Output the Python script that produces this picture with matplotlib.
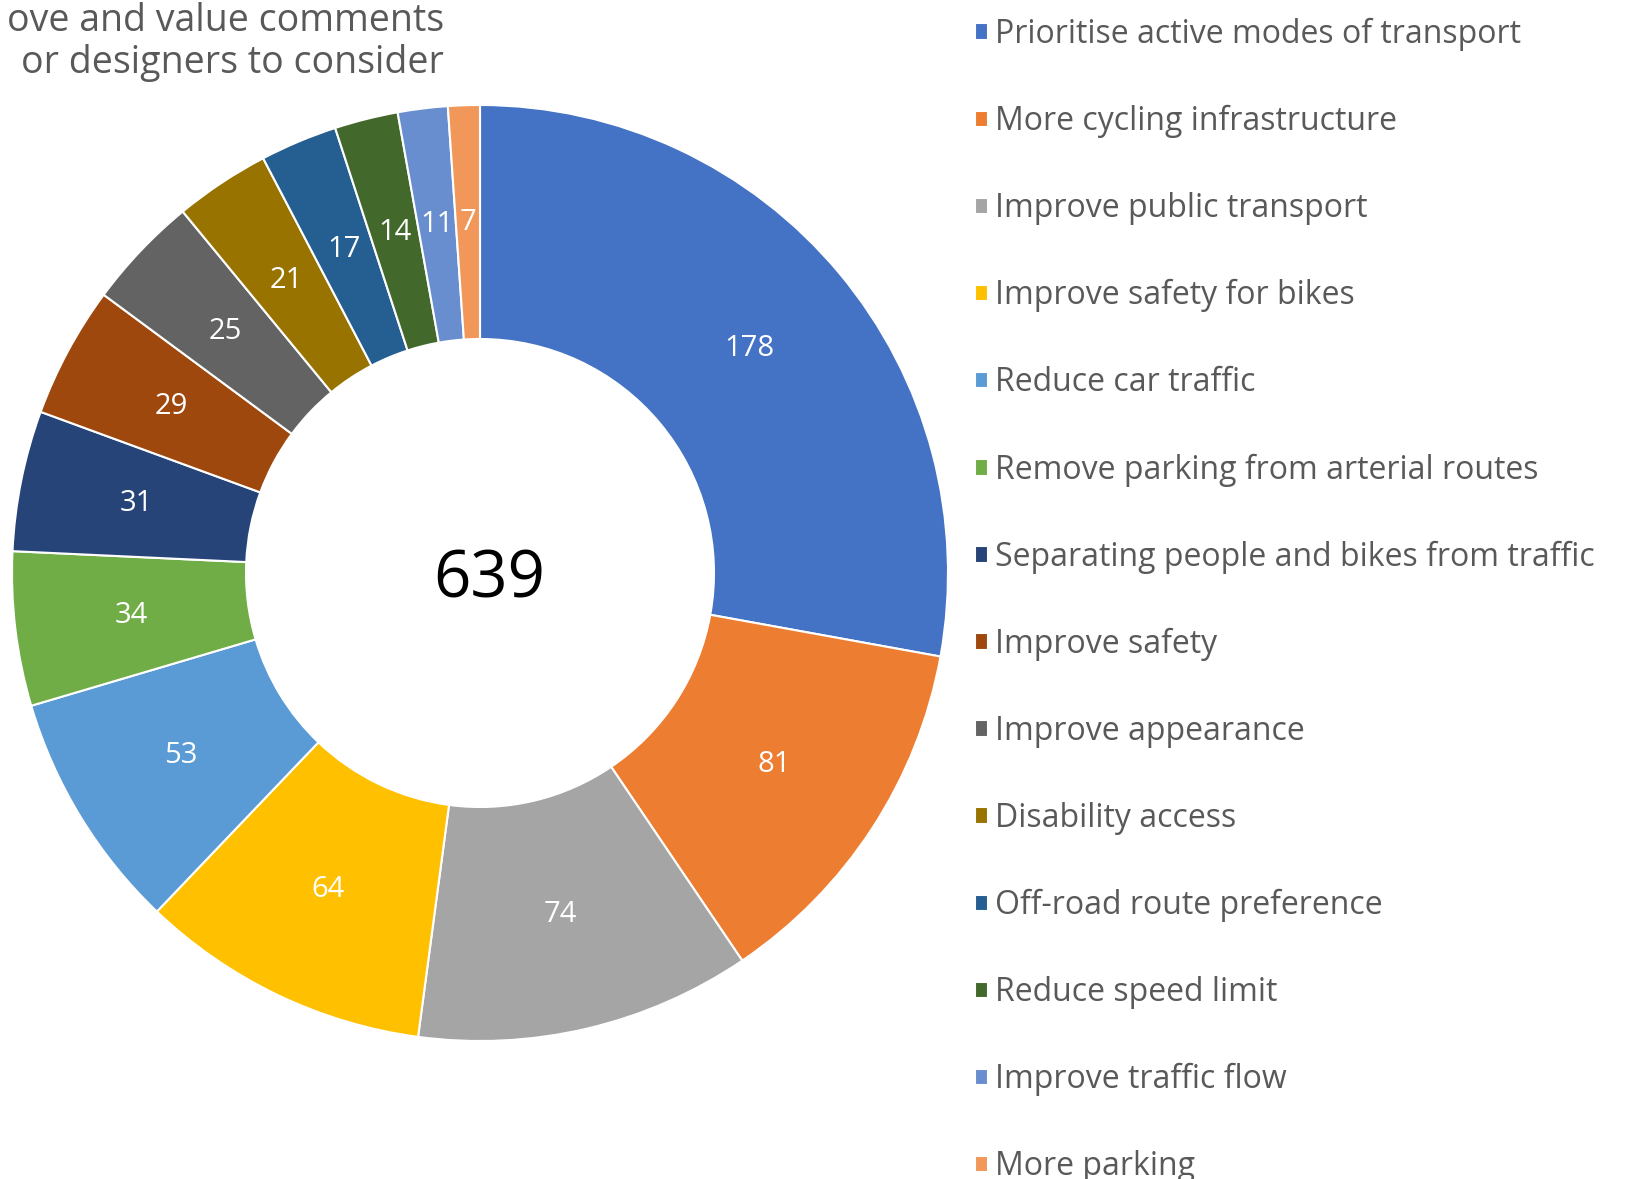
import matplotlib
matplotlib.use("Agg")
import matplotlib.pyplot as plt

plt.rcParams["font.family"] = ["Open Sans", "DejaVu Sans"]

categories = [
    "Prioritise active modes of transport",
    "More cycling infrastructure",
    "Improve public transport",
    "Improve safety for bikes",
    "Reduce car traffic",
    "Remove parking from arterial routes",
    "Separating people and bikes from traffic",
    "Improve safety",
    "Improve appearance",
    "Disability access",
    "Off-road route preference",
    "Reduce speed limit",
    "Improve traffic flow",
    "More parking",
]
counts = [178, 81, 74, 64, 53, 34, 31, 29, 25, 21, 17, 14, 11, 7]
colors = ["#4472C4", "#ED7D31", "#A5A5A5", "#FFC000", "#5B9BD5", "#70AD47",
          "#264478", "#9E480E", "#636363", "#997300", "#255E91", "#43682B",
          "#698ED0", "#F1975A"]
title_lines = "ove and value comments\nor designers to consider"

W, H = 1637, 1179
fig = plt.figure(figsize=(W / 100, H / 100), dpi=100)

cx, cy, r = 480, 573, 468
ax = fig.add_axes([(cx - r) / W, (H - cy - r) / H, 2 * r / W, 2 * r / H])
wedges, texts = ax.pie(
    counts, colors=colors, startangle=90, counterclock=False, radius=1,
    wedgeprops=dict(width=0.5, edgecolor="white", linewidth=1.5),
    labels=[str(c) for c in counts], labeldistance=0.75,
    textprops=dict(color="white", fontsize=21, ha="center", va="center"),
)
ax.set_xlim(-1, 1)
ax.set_ylim(-1, 1)
ax.set_aspect("equal")
ax.axis("off")
ax.text(0.02, -0.015, str(sum(counts)), ha="center", va="center", fontsize=47, color="black")

fig.text(444 / W, 1 - 42 / H, title_lines, ha="right", va="center",
         fontsize=27, color="#595959", linespacing=1.15)

fig.legend(wedges, categories, loc="upper left", bbox_to_anchor=(962 / W, 1 - 5 / H),
           frameon=False, fontsize=23, labelcolor="#595959",
           handlelength=0.42, handleheight=0.42, handletextpad=0.2,
           labelspacing=1.69, borderaxespad=0)

fig.savefig("out.png", dpi=100)
